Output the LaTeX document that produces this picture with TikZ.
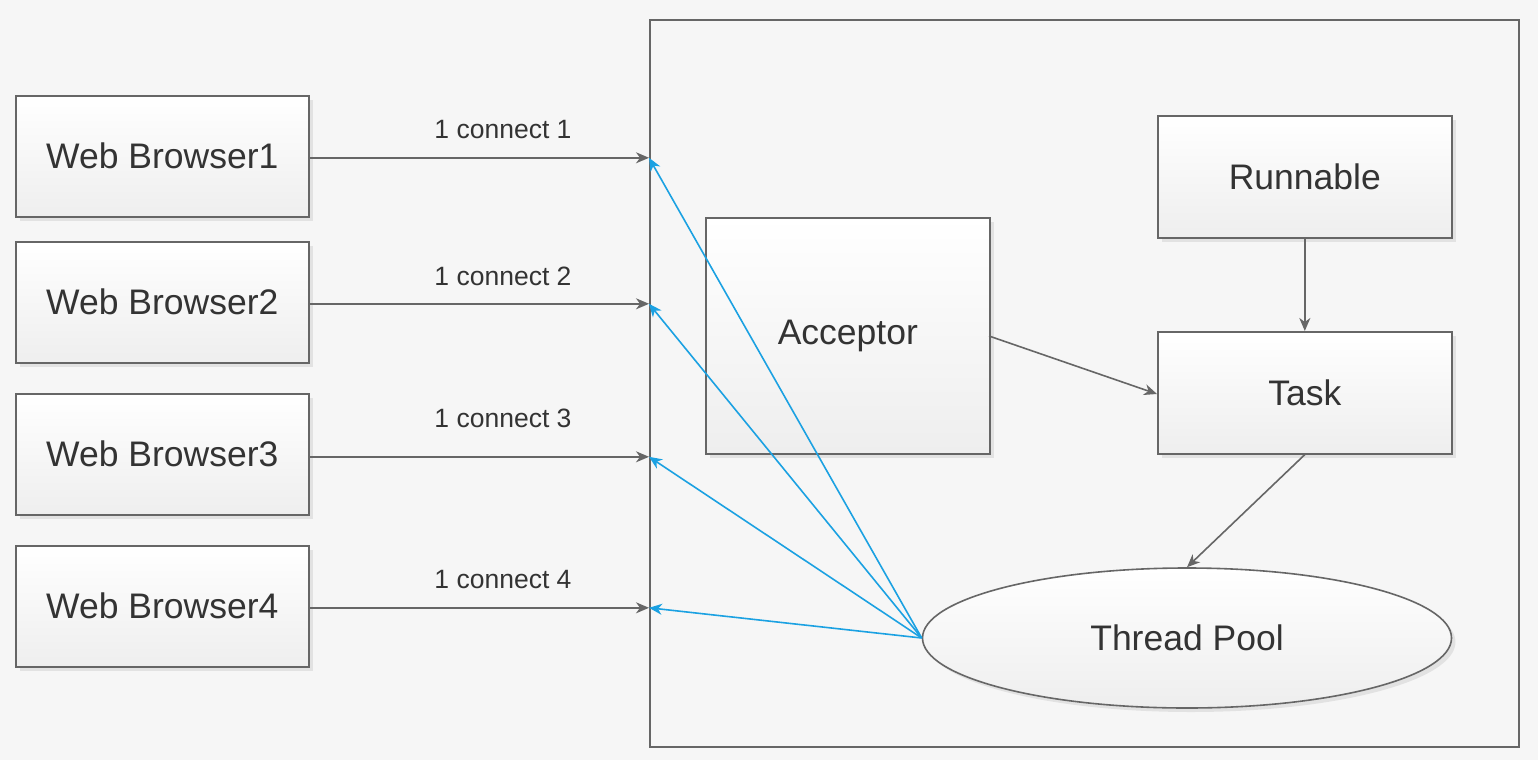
\documentclass[tikz,border=0pt]{standalone}
\usepackage{fontspec}
\setmainfont{Liberation Sans}
\usetikzlibrary{arrows.meta,shapes.geometric,shadows,calc}
\definecolor{bg}{HTML}{F6F6F6}
\definecolor{edge}{HTML}{666666}
\definecolor{txt}{HTML}{333333}
\definecolor{blu}{HTML}{1BA1E2}
\definecolor{boxbot}{HTML}{EEEEEE}
\tikzset{
  box/.style={draw=edge, line width=1.6pt, top color=white, bottom color=boxbot,
    drop shadow={shadow xshift=4pt, shadow yshift=-4pt, fill=black, opacity=0.08},
    text=txt, font=\fontsize{35.5}{40}\selectfont, inner sep=0pt, anchor=north west},
  pool/.style={ellipse, draw=edge, line width=1.6pt, top color=white, bottom color=boxbot,
    drop shadow={shadow xshift=4pt, shadow yshift=-4pt, fill=black, opacity=0.08},
    text=txt, font=\fontsize{35.5}{40}\selectfont, inner sep=0pt},
  garr/.style={draw=edge, line width=1.6pt, -{Stealth[length=13pt,width=11pt,inset=4pt]}},
  barr/.style={draw=blu, line width=1.6pt, -{Stealth[length=13pt,width=11pt,inset=4pt]}},
  lbl/.style={text=txt, font=\fontsize{26.5}{30}\selectfont, inner sep=0pt}
}
\begin{document}
\begin{tikzpicture}[x=1pt,y=-1pt]
\fill[bg] (0,0) rectangle (1538,760);
\useasboundingbox (0,0) rectangle (1538,760);
% container
\node[draw=edge, line width=1.6pt, fill=bg, minimum width=869pt, minimum height=727pt, inner sep=0pt, anchor=north west] (cont) at (649,19) {};
% browsers
\node[box, minimum width=293pt, minimum height=121pt] (b1) at (15,95) {Web Browser1};
\node[box, minimum width=293pt, minimum height=121pt] (b2) at (15,241) {Web Browser2};
\node[box, minimum width=293pt, minimum height=121pt] (b3) at (15,393) {Web Browser3};
\node[box, minimum width=293pt, minimum height=121pt] (b4) at (15,545) {Web Browser4};
% inner nodes
\node[box, minimum width=284pt, minimum height=236pt] (acc) at (705,217) {Acceptor};
\node[box, minimum width=294pt, minimum height=122pt] (run) at (1157,115) {Runnable};
\node[box, minimum width=294pt, minimum height=122pt] (task) at (1157,331) {Task};
\node[pool, minimum width=529pt, minimum height=140pt] (tp) at (1187,638) {Thread Pool};
% entry points on container edge
\coordinate (e1) at ($(b1.east)+(0,1.5)$);
\coordinate (e2) at ($(b2.east)+(0,1.5)$);
\coordinate (e3) at ($(b3.east)+(0,2.5)$);
\coordinate (e4) at ($(b4.east)+(0,1.5)$);
\coordinate (f1) at (e1 -| cont.west);
\coordinate (f2) at (e2 -| cont.west);
\coordinate (f3) at (e3 -| cont.west);
\coordinate (f4) at (e4 -| cont.west);
\draw[garr] (e1) -- (f1);
\draw[garr] (e2) -- (f2);
\draw[garr] (e3) -- (f3);
\draw[garr] (e4) -- (f4);
\node[lbl] (l1) at (503,130) {1 connect 1};
\node[lbl] (l2) at (503,276) {1 connect 2};
\node[lbl] (l3) at (503,418) {1 connect 3};
\node[lbl] (l4) at (503,580) {1 connect 4};
% blue
\draw[barr] (tp.west) -- (f1);
\draw[barr] (tp.west) -- (f2);
\draw[barr] (tp.west) -- (f3);
\draw[barr] (tp.west) -- (f4);
% gray inner
\coordinate (a1) at (989,336);
\coordinate (t1) at (1157,394);
\draw[garr] (a1) -- (t1);
\draw[garr] (run.south) -- (task.north);
\draw[garr] (task.south) -- (tp.north);
\end{tikzpicture}
\end{document}
